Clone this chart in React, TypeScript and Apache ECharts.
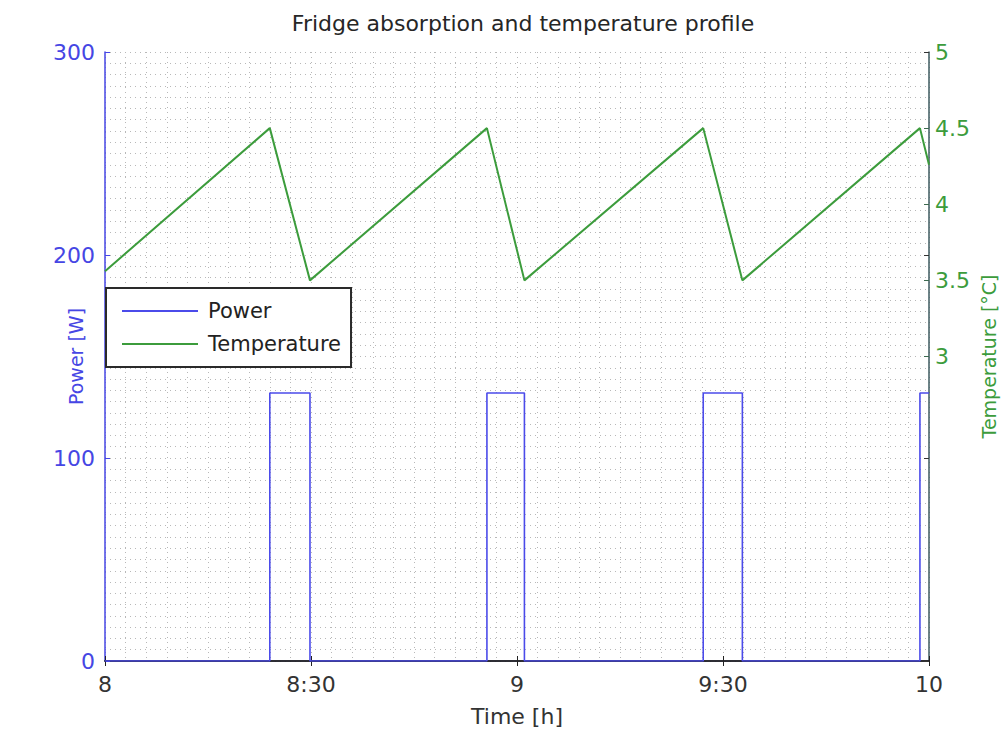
import React, { useEffect, useRef } from "react";
import * as echarts from "echarts";

const titleText = "Fridge absorption and temperature profile";
const timeTicks = [8, 8.5, 9, 9.5, 10];
const powerTicks = [0, 100, 200, 300];
const tempTicks = [3, 3.5, 4, 4.5, 5];

const powerTimes = [8, 8.4, 8.4, 8.4975, 8.4975, 8.927, 8.927, 9.018, 9.018, 9.452, 9.452, 9.547, 9.547, 9.978, 9.978, 10];
const powerValues = [0, 0, 132, 132, 0, 0, 132, 132, 0, 0, 132, 132, 0, 0, 132, 132];

const tempTimes = [8, 8.4, 8.4975, 8.927, 9.018, 9.452, 9.547, 9.978, 10];
const tempValues = [3.56, 4.5, 3.5, 4.5, 3.5, 4.5, 3.5, 4.5, 4.26];

const FONT = "DejaVu Sans";
const BLUE = "#4646e4";
const GREEN = "#3c9c3c";
const GRIDC = "#b8b8b8";

function fmtTime(v: number) {
  const h = Math.floor(v + 1e-9);
  const m = Math.round((v - h) * 60);
  return m ? `${h}:${m < 10 ? "0" + m : m}` : `${h}`;
}

export default function App() {
  const ref = useRef<HTMLDivElement>(null);
  useEffect(() => {
    if (!ref.current) return;
    const chart = echarts.init(ref.current, null, { renderer: "svg" });
    const dotted = { color: GRIDC, width: 1, type: [1, 4] as any };
    chart.setOption({
      animation: false,
      backgroundColor: "#ffffff",
      title: {
        text: titleText,
        left: 518,
        textAlign: "center",
        top: 7,
        textStyle: { fontFamily: FONT, fontSize: 22, fontWeight: "normal", color: "#262626" },
      },
      legend: {
        left: 106,
        top: 288,
        orient: "vertical",
        backgroundColor: "#ffffff",
        borderColor: "#2a2a2a",
        borderWidth: 2,
        padding: [12, 10, 12, 16],
        itemWidth: 76,
        itemHeight: 2,
        itemGap: 11,
        icon: "rect",
        textStyle: { fontFamily: FONT, fontSize: 21, color: "#222", lineHeight: 22, padding: [0, 0, 0, 5] },
        data: ["Power", "Temperature"],
      },
      grid: { left: 105, right: 79, top: 52, bottom: 67, containLabel: false },
      xAxis: [
        {
          type: "value",
          min: 8,
          max: 10,
          interval: 0.5,
          name: "Time [h]",
          nameLocation: "middle",
          nameGap: 44,
          nameMoveOverlap: false,
          nameTextStyle: { fontFamily: FONT, fontSize: 22, color: "#333" },
          axisLine: { show: true, lineStyle: { color: "#1a1a40", width: 1.5 } },
          axisTick: { show: true, inside: true, length: 5, lineStyle: { color: "#222" } },
          axisLabel: { fontFamily: FONT, fontSize: 22, color: "#333", margin: 12, customValues: timeTicks, formatter: (v: number) => fmtTime(v) },
          splitLine: { show: true, lineStyle: dotted },
          minorTick: { show: false, splitNumber: 10 },
          minorSplitLine: { show: true, lineStyle: dotted },
        },
        {
          type: "value",
          position: "top",
          min: 8,
          max: 10,
          interval: 0.5,
          axisLine: { show: true, lineStyle: { color: "#222", width: 1.5 } },
          axisTick: { show: true, inside: true, length: 5, lineStyle: { color: "#222" } },
          axisLabel: { show: false },
          splitLine: { show: false },
        },
      ],
      yAxis: [
        {
          type: "value",
          min: 0,
          max: 300,
          interval: 100,
          name: "Power [W]",
          nameLocation: "middle",
          nameGap: 20,
          nameMoveOverlap: false,
          nameRotate: 90,
          nameTextStyle: { fontFamily: FONT, fontSize: 19, color: BLUE },
          axisLine: { show: true, lineStyle: { color: BLUE, width: 1.5 } },
          axisTick: { show: true, inside: true, length: 5, lineStyle: { color: BLUE } },
          axisLabel: { fontFamily: FONT, fontSize: 22, color: BLUE, margin: 10, customValues: powerTicks },
          splitLine: { show: true, lineStyle: dotted },
          minorTick: { show: false, splitNumber: 18 },
          minorSplitLine: { show: true, lineStyle: dotted },
        },
        {
          type: "value",
          position: "right",
          min: 1,
          max: 5,
          interval: 0.5,
          name: "Temperature [°C]",
          nameLocation: "middle",
          nameGap: 50,
          nameMoveOverlap: false,
          nameRotate: 90,
          nameTextStyle: { fontFamily: FONT, fontSize: 19, color: GREEN },
          axisLine: { show: true, lineStyle: { color: "#3d5a5f", width: 1.5 } },
          axisTick: { show: true, inside: true, length: 5, customValues: tempTicks, lineStyle: { color: "#3d6a4f" } },
          axisLabel: { fontFamily: FONT, fontSize: 22, color: GREEN, margin: 6, customValues: tempTicks },
          splitLine: { show: false },
        },
        {
          type: "value",
          position: "right",
          offset: 0,
          min: 0,
          max: 300,
          interval: 100,
          axisLine: { show: false },
          axisTick: { show: true, inside: true, length: 5, lineStyle: { color: "#333" } },
          axisLabel: { show: false },
          splitLine: { show: false },
        },
      ],
      series: [
        {
          name: "Power",
          type: "line",
          xAxisIndex: 0,
          yAxisIndex: 0,
          symbol: "none",
          lineStyle: { color: "#4b4bea", width: 1.6 },
          itemStyle: { color: "#4b4bea" },
          data: powerTimes.map((t, i) => [t, powerValues[i]]),
          z: 3,
        },
        {
          name: "Temperature",
          type: "line",
          xAxisIndex: 0,
          yAxisIndex: 1,
          symbol: "none",
          lineStyle: { color: GREEN, width: 2 },
          itemStyle: { color: GREEN },
          data: tempTimes.map((t, i) => [t, tempValues[i]]),
          z: 3,
        },
      ],
    });
    return () => chart.dispose();
  }, []);
  return <div ref={ref} style={{ position: "fixed", left: 0, top: 0, width: 1008, height: 732 }} />;
}
